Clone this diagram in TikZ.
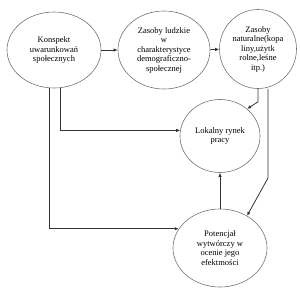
\documentclass[tikz,border=0pt]{standalone}
\usepackage{fontspec}
\setmainfont{Liberation Serif}
\usetikzlibrary{shapes.geometric,arrows.meta}
\tikzset{
  blob/.style={ellipse, draw=black!55, line width=0.6pt, align=center,
    inner sep=0pt, font=\fontsize{8.5}{9.5}\selectfont},
  arr/.style={draw=black!80, line width=0.8pt, -{Latex[length=4pt,width=3.5pt]}}
}
\begin{document}
\begin{tikzpicture}[x=1pt,y=-1pt]
\useasboundingbox (0,0) rectangle (300,298);
\node[blob, minimum width=94pt, minimum height=76pt] (konspekt) at (54,50)
    {Konspekt\\uwarunkowań\\społecznych};
\node[blob, minimum width=92pt, minimum height=78pt] (ludzkie) at (164,50)
    {Zasoby ludzkie\\w\\charakterystyce\\demograficzno-\\społecznej};
\node[blob, minimum width=77pt, minimum height=79pt] (naturalne) at (258,49)
    {Zasoby\\naturalne(kopa\\liny,użytk\\rolne,leśne\\itp.)};
\node[blob, minimum width=80pt, minimum height=73pt] (rynek) at (220,136)
    {Lokalny rynek\\pracy};
\node[blob, minimum width=94pt, minimum height=78pt] (potencjal) at (220,248)
    {Potencjał\\wytwórczy w\\ocenie jego\\efektmości};
% strzalki
\draw[arr] (konspekt) -- (ludzkie);
\draw[arr] (ludzkie) -- (naturalne);
\draw[arr] (konspekt.south -| 60,0) |- (rynek.172);
\draw[arr] (konspekt.south -| 49,0) |- (potencjal.155);
\draw[arr] (naturalne.south) -- ++(0,13) -- (rynek.45);
\draw[arr] (naturalne.south -| 268,0) -- (268,178) -- (potencjal.50);
\draw[arr] (potencjal.north) -- (rynek.south);
\end{tikzpicture}
\end{document}
